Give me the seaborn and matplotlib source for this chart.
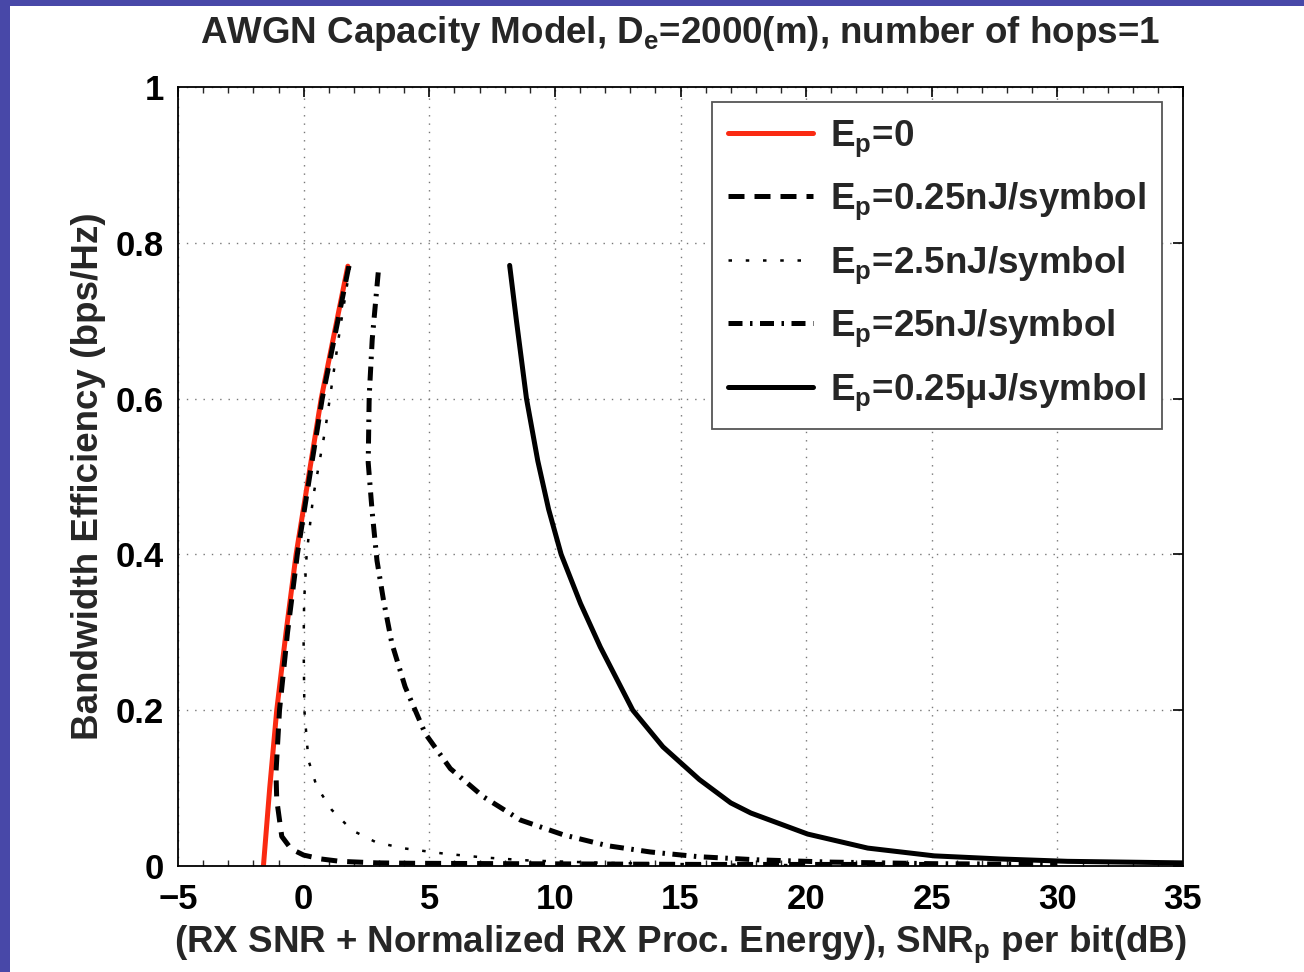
import numpy as np
import pandas as pd
import matplotlib
matplotlib.use("Agg")
import matplotlib.pyplot as plt
import seaborn as sns
from matplotlib.patches import Rectangle
from matplotlib.ticker import MultipleLocator

# ---- data ----
x_ep0 = [-1.6, -1.35, -1.07, -0.7, -0.3, 0.2, 0.7, 1.26, 1.76]
y_ep0 = [0.0, 0.1, 0.2, 0.3, 0.4, 0.5, 0.6, 0.69, 0.77]

x_ep025n = [1.8, 1.3, 0.74, 0.24, -0.25, -0.64, -0.96, -1.1, -1.07, -0.87,
            -0.5, 0.0, 0.7, 1.45, 2.92, 4.31, 8.0, 12.0, 16.0, 20.0, 25.0]
y_ep025n = [0.77, 0.69, 0.6, 0.5, 0.4, 0.3, 0.2, 0.12, 0.085, 0.038,
            0.022, 0.014, 0.009, 0.006, 0.004, 0.0035, 0.003, 0.0025, 0.002,
            0.002, 0.002]

x_ep25n = [1.85, 1.45, 0.86, 0.38, 0.12, 0.02, 0.0, 0.03, 0.19, 0.52, 1.12,
           1.92, 2.85, 3.91, 5.56, 7.15, 9.0, 12.0, 16.0, 20.0]
y_ep25n = [0.77, 0.69, 0.56, 0.474, 0.4, 0.34, 0.286, 0.2, 0.136, 0.102, 0.072,
           0.046, 0.031, 0.023, 0.016, 0.011, 0.007, 0.004, 0.002, 0.001]

x_ep25 = [2.97, 2.9, 2.73, 2.61, 2.57, 2.73, 2.92, 3.18, 3.51, 4.04, 4.84, 5.84,
          7.15, 8.63, 10.34, 12.1, 13.8, 15.7, 18.0, 21.0, 25.0, 30.0]
y_ep25 = [0.762, 0.737, 0.676, 0.603, 0.518, 0.454, 0.392, 0.341, 0.286, 0.23,
          0.17, 0.125, 0.089, 0.059, 0.04, 0.026, 0.018, 0.012, 0.008, 0.005,
          0.003, 0.002]

x_ep025u = [8.2, 8.47, 8.87, 9.32, 9.75, 10.25, 11.02, 11.81, 13.1, 14.3, 15.75,
            17.0, 17.8, 20.06, 22.45, 25.1, 27.75, 30.4, 35.0]
y_ep025u = [0.771, 0.7, 0.6, 0.52, 0.458, 0.4, 0.337, 0.281, 0.2, 0.153, 0.111,
            0.081, 0.068, 0.041, 0.023, 0.013, 0.009, 0.006, 0.004]

labels = ['$\\mathregular{E_p}$=0',
          '$\\mathregular{E_p}$=0.25nJ/symbol',
          '$\\mathregular{E_p}$=2.5nJ/symbol',
          '$\\mathregular{E_p}$=25nJ/symbol',
          '$\\mathregular{E_p}$=0.25μJ/symbol']
x_ticks = [-5, 0, 5, 10, 15, 20, 25, 30, 35]
y_ticks = [0, 0.2, 0.4, 0.6, 0.8, 1]

sns.set_theme(style="white")
plt.rcParams['font.family'] = ['Liberation Sans', 'DejaVu Sans']
plt.rcParams['font.weight'] = 'bold'
plt.rcParams['mathtext.default'] = 'regular'

fig = plt.figure(figsize=(13.04, 9.72), dpi=100)
fig.patch.set_facecolor('white')
ax = fig.add_axes([178/1304, 1-866/972, (1183-178)/1304, (866-87)/972])

series = [
    (x_ep0, y_ep0, labels[0], '#FA2A12', 3.6, '-'),
    (x_ep025n, y_ep025n, labels[1], 'black', 3.6, (0, (3.2, 2.0))),
    (x_ep25n, y_ep25n, labels[2], 'black', 1.8, (0, (1.4, 5.5))),
    (x_ep25, y_ep25, labels[3], 'black', 3.6, (0, (2.8, 1.5, 0.5, 1.5))),
    (x_ep025u, y_ep025u, labels[4], 'black', 3.6, '-'),
]
for xs, ys, lab, col, lw, ls in series:
    df = pd.DataFrame({'x': xs, 'y': ys})
    sns.lineplot(data=df, x='x', y='y', sort=False, estimator=None, ax=ax,
                 color=col, linewidth=lw, linestyle=ls, label=lab)

ax.set_xlim(-5, 35)
ax.set_ylim(0, 1)
ax.set_xticks(x_ticks)
ax.set_yticks(y_ticks)
ax.set_xticklabels(['\u22125' if t == -5 else str(t) for t in x_ticks])
ax.set_yticklabels(['0', '0.2', '0.4', '0.6', '0.8', '1'])
ax.xaxis.set_minor_locator(MultipleLocator(1))
ax.tick_params(axis='both', which='major', direction='in', length=7, width=1.2,
               top=True, right=True, labelsize=25, colors='black')
ax.tick_params(axis='x', which='major', pad=12)
ax.tick_params(axis='y', which='major', pad=10)
ax.tick_params(axis='x', which='minor', direction='in', length=4, width=1,
               top=True, bottom=True)
for lab in ax.get_xticklabels() + ax.get_yticklabels():
    lab.set_fontweight('bold')
ax.grid(True, which='major', color='#777777', linestyle=(0, (1, 5)), linewidth=1)
for s in ax.spines.values():
    s.set_color('black')
    s.set_linewidth(1.3)

ax.set_title('AWGN Capacity Model, D$_\\mathregular{e}$=2000(m), number of hops=1',
             fontsize=26.5, fontweight='bold', pad=32)
ax.set_xlabel('(RX SNR + Normalized RX Proc. Energy), SNR$_\\mathregular{p}$ per bit(dB)',
              fontsize=26.5, fontweight='bold', labelpad=6)
ax.set_ylabel('Bandwidth Efficiency (bps/Hz)', fontsize=26.5, fontweight='bold', labelpad=7)

leg = ax.legend(loc='upper right', bbox_to_anchor=(0.979, 0.981), borderaxespad=0,
                fontsize=26.5, handlelength=2.3, labelspacing=0.6, handletextpad=0.45,
                borderpad=0.45, fancybox=False, framealpha=1)
leg.get_frame().set_edgecolor('#555555')
leg.get_frame().set_linewidth(1.3)
for t in leg.get_texts():
    t.set_fontweight('bold')

# slide border
fig.patches.append(Rectangle((0, 0), 10/1304, 1, transform=fig.transFigure,
                             facecolor='#4848A8', edgecolor='none', zorder=10))
fig.patches.append(Rectangle((0, 1-6/972), 1, 6/972, transform=fig.transFigure,
                             facecolor='#4848A8', edgecolor='none', zorder=10))

fig.savefig('out.png', dpi=100, facecolor='white')
